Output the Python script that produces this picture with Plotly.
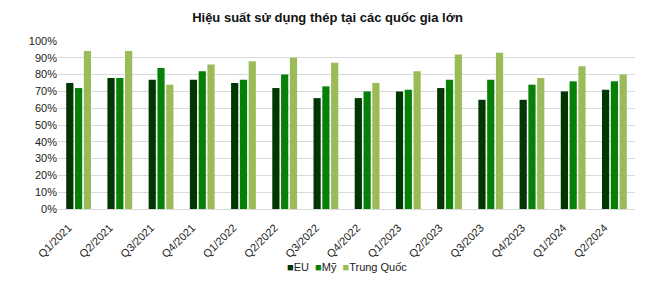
import plotly.graph_objects as go

quarters = ["Q1/2021", "Q2/2021", "Q3/2021", "Q4/2021", "Q1/2022", "Q2/2022", "Q3/2022",
            "Q4/2022", "Q1/2023", "Q2/2023", "Q3/2023", "Q4/2023", "Q1/2024", "Q2/2024"]
eu = [75, 78, 77, 77, 75, 72, 66, 66, 70, 72, 65, 65, 70, 71]
my = [72, 78, 84, 82, 77, 80, 73, 70, 71, 77, 77, 74, 76, 76]
tq = [94, 94, 74, 86, 88, 90, 87, 75, 82, 92, 93, 78, 85, 80]
series = [("EU", eu, "#023602"), ("Mỹ", my, "#078007"), ("Trung Quốc", tq, "#9BBB59")]

font = "Liberation Sans, Arial, sans-serif"
fig = go.Figure()
for name, vals, col in series:
    fig.add_trace(go.Bar(x=quarters, y=[v / 100 for v in vals], name=name, marker_color=col,
                         marker_line_width=0, showlegend=False))

legend_text = "&nbsp;&nbsp;".join(
    f"<span style='color:{col}'>■</span>{name}" for name, _, col in series)

fig.update_layout(
    width=655, height=283,
    margin=dict(l=58, r=20, t=41, b=74),
    paper_bgcolor="white", plot_bgcolor="white",
    title=dict(text="<b>Hiệu suất sử dụng thép tại các quốc gia lớn</b>", x=0.5, xanchor="center",
               y=0.94, yanchor="middle", font=dict(family=font, size=13, color="#111")),
    barmode="group", bargap=0.36, bargroupgap=0.18,
    showlegend=False,
    font=dict(family=font, size=11, color="#222"),
    annotations=[dict(text=legend_text, x=0.5, xref="paper", xanchor="center",
                      y=-0.345, yref="paper", yanchor="middle", showarrow=False,
                      font=dict(family=font, size=11, color="#222"))],
)
fig.update_yaxes(range=[0, 1.0], tickvals=[i / 10 for i in range(11)], tickformat=".0%",
                 showgrid=True, gridcolor="#d9d9d9", gridwidth=1, zeroline=False,
                 showline=False, ticks="", automargin=False,
                 tickfont=dict(family=font, size=11, color="#222"))
fig.update_xaxes(tickangle=-45, showline=True, linecolor="#d9d9d9", ticks="", automargin=False,
                 ticklabelshift=-10, ticklabelstandoff=7,
                 tickfont=dict(family=font, size=11, color="#222"))

fig.write_html("out.html")
